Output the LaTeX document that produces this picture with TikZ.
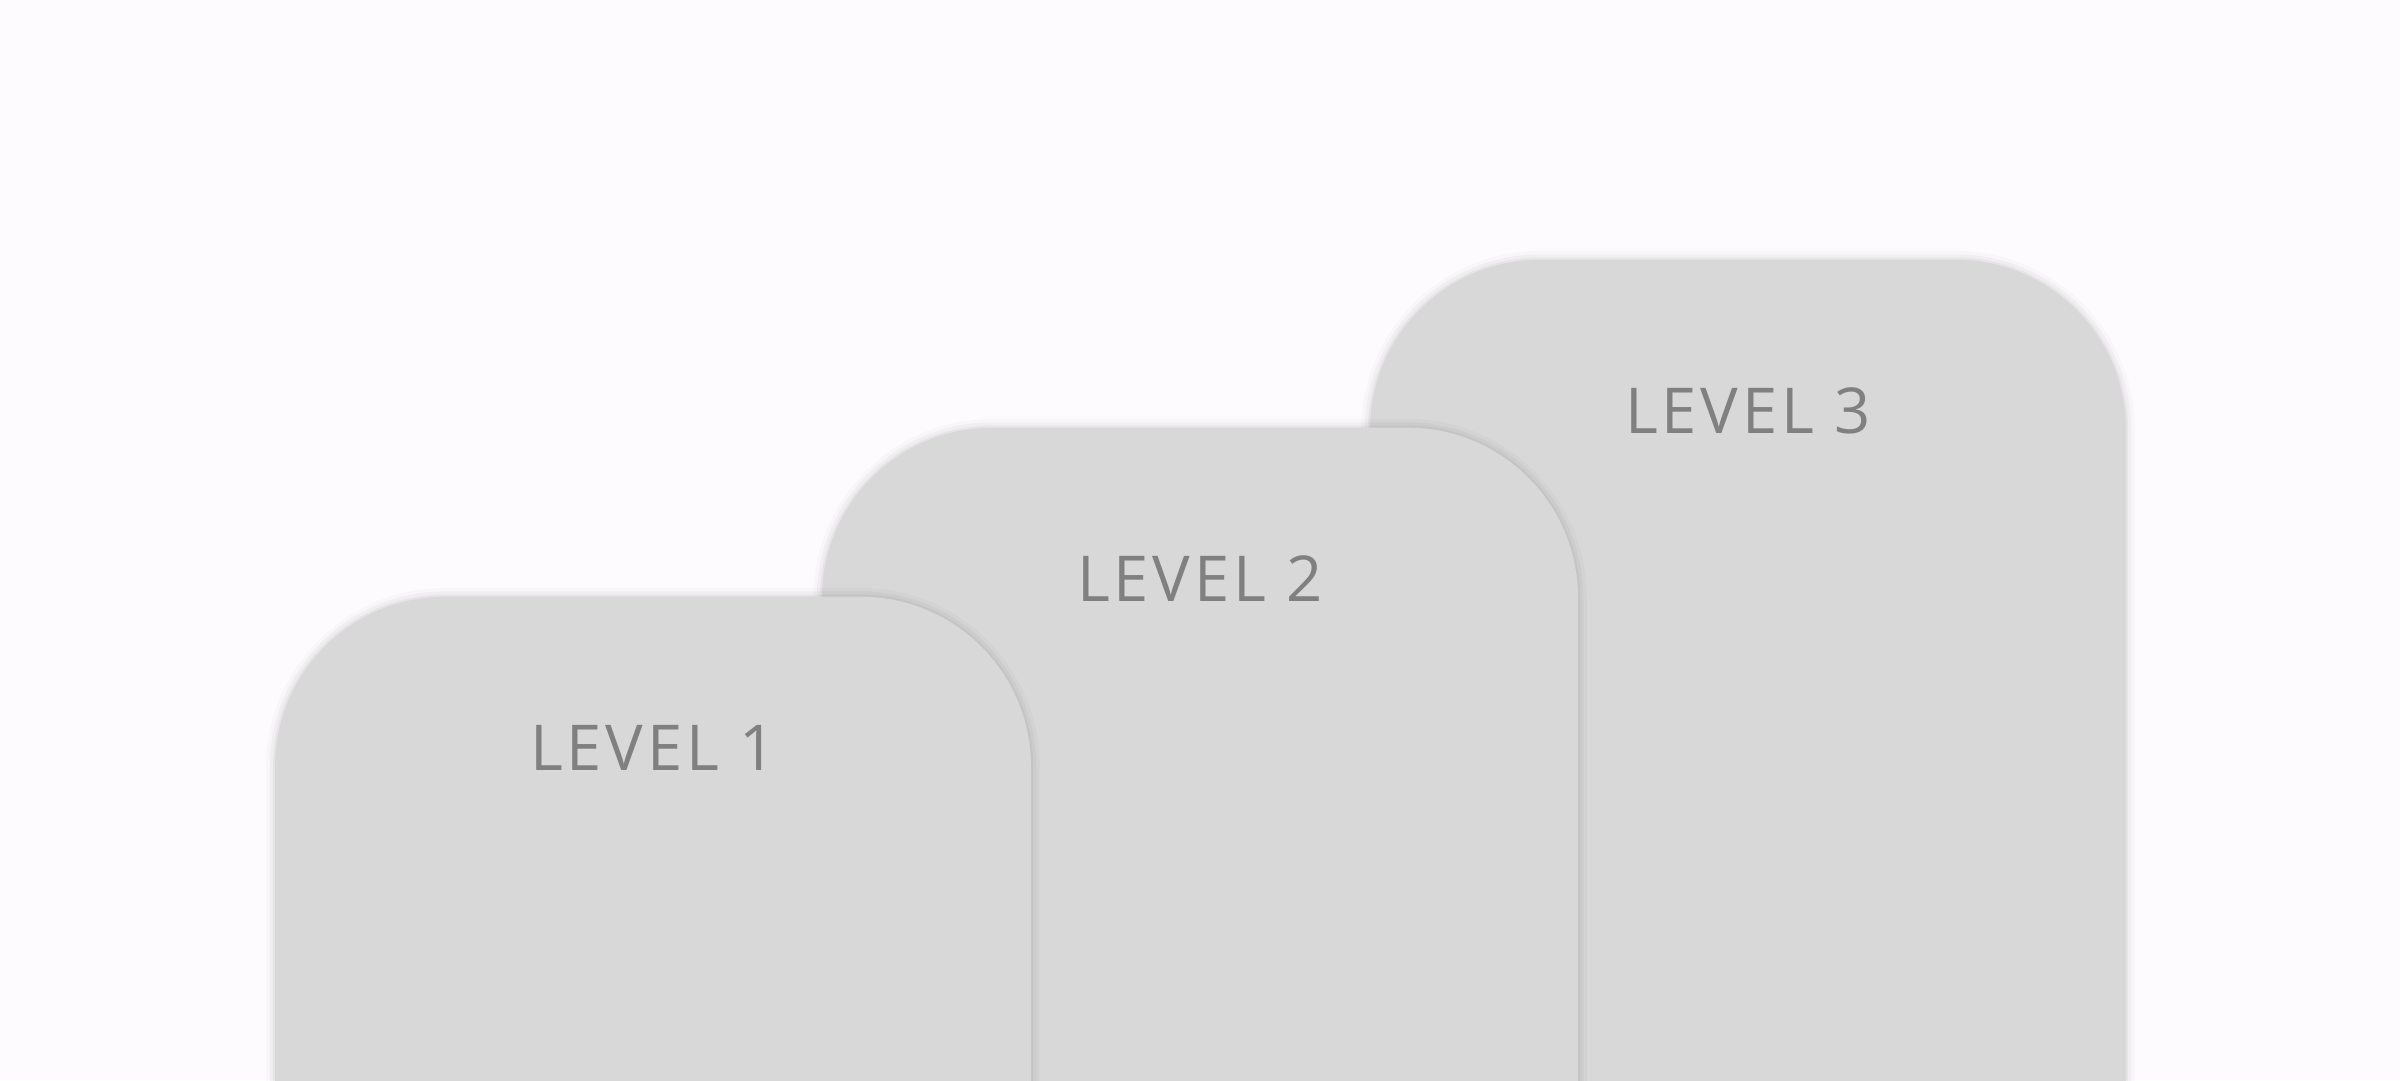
\documentclass[tikz,border=0pt]{standalone}
\usepackage{fontspec}
\setmainfont{Open Sans}
\usepackage{tikz}
\usetikzlibrary{positioning}
\definecolor{lvlFondo}{HTML}{FEFBFE}
\definecolor{lvlCaja}{HTML}{D8D8D8}
\definecolor{lvlTexto}{HTML}{808080}

\begin{document}
\begin{tikzpicture}[
        stepbox/.style={fill=lvlCaja, rounded corners=17mm, minimum width=7.56cm, minimum height=12cm, anchor=north, inner sep=0pt,
            preaction={draw=black, opacity=0.02, line width=5pt, xshift=0.5pt},
            preaction={draw=black, opacity=0.03, line width=3pt, xshift=0.5pt},
            preaction={draw=black, opacity=0.04, line width=1.2pt, xshift=0.5pt}},
        lbl/.style={text=lvlTexto, font=\fontsize{18}{20}\selectfont\addfontfeature{LetterSpace=6}}
    ]

    \useasboundingbox (0,0) rectangle (24,10.8);
    \fill[lvlFondo] (0,0) rectangle (24,10.8);
    \clip (0,0) rectangle (24,10.8);

    % Nivel 3 (atras)
    \node[stepbox] (lvl3) at (17.48,8.21) {};
    \node[lbl] (txt3) at ([yshift=-1.52cm]lvl3.north) {LEVEL 3};

    % Nivel 2
    \node[stepbox] (lvl2) at (12.0,6.53) {};
    \node[lbl] (txt2) at ([yshift=-1.52cm]lvl2.north) {LEVEL 2};

    % Nivel 1 (delante)
    \node[stepbox] (lvl1) at (6.53,4.84) {};
    \node[lbl] (txt1) at ([yshift=-1.52cm]lvl1.north) {LEVEL 1};

\end{tikzpicture}
\end{document}
